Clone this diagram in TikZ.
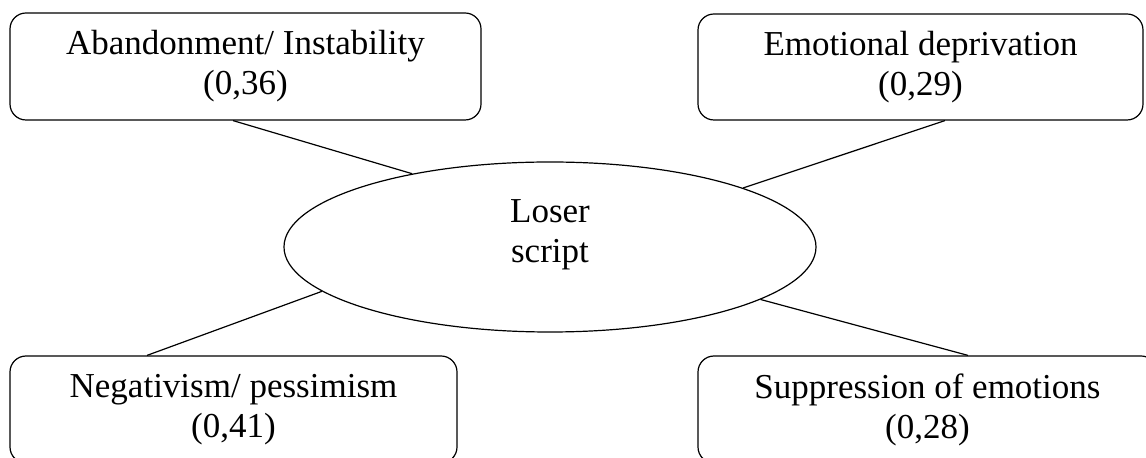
\documentclass[tikz,border=0pt]{standalone}
\usepackage{fontspec}
\setmainfont{Liberation Serif}
\usetikzlibrary{shapes.geometric,calc}
\begin{document}
\begin{tikzpicture}[x=0.5pt,y=-0.5pt,
  txt/.style={align=center,font=\fontsize{17.5pt}{20pt}\selectfont,inner sep=0pt},
  boxnode/.style={txt,draw,line width=0.6pt,rounded corners=8pt,minimum height=53.5pt},
  link/.style={line width=0.6pt}]
\useasboundingbox (0,0) rectangle (1146,458);
\clip (0,0) rectangle (1146,458);
\node[boxnode,minimum width=235.5pt] (tl) at (245.5,66.5) {Abandonment/ Instability\\(0,36)};
\node[boxnode,minimum width=222.5pt,minimum height=53pt] (tr) at (920.5,67) {Emotional deprivation\\(0,29)};
\node[boxnode,minimum width=223.5pt] (bl) at (233.5,409.5) {Negativism/ pessimism\\(0,41)};
\node[boxnode,minimum width=229.5pt] (br) at (927.5,409.5) {Suppression of emotions\\(0,28)};
\node[draw,ellipse,line width=0.6pt,inner sep=0pt,minimum width=266pt,minimum height=85pt] (e) at (550,247) {};
\node[txt] (et) at ($(e)+(0,-12)$) {Loser\\script};
\draw[link] ($(tl.south)+(-12.5,0)$) -- (e.152);
\draw[link] ($(tr.south)+(24.5,0)$) -- (e.17);
\draw[link] ($(bl.north)+(-86.5,0)$) -- (e.191);
\draw[link] ($(br.north)+(40.5,0)$) -- (e.346);
\end{tikzpicture}
\end{document}
